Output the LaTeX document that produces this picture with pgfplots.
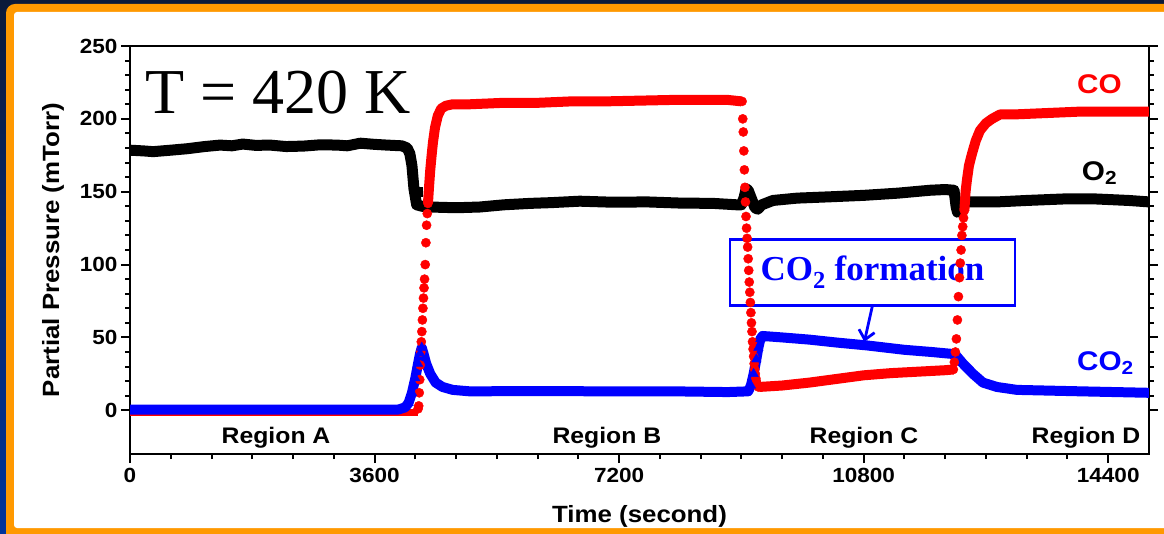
\documentclass[border=0pt]{standalone}
\usepackage{pgfplots}
\pgfplotsset{compat=1.18}
\usepackage{fontspec}
\setmainfont{Liberation Sans}[FakeStretch=1.1]
\newfontfamily\seriffont{Liberation Serif}
\usetikzlibrary{arrows.meta}
\definecolor{frameorange}{HTML}{FF9900}
\definecolor{navytop}{HTML}{0B1A3A}
\definecolor{navybot}{HTML}{00349C}
\begin{document}
\begin{tikzpicture}
\useasboundingbox (0,0) rectangle (1164pt,533pt);
\clip (0,0) rectangle (1164pt,533pt);
\shade[top color=navytop, bottom color=navybot] (0,0) rectangle (1164pt,533pt);
\fill[frameorange, rounded corners=9pt] (6pt,-30pt) rectangle (1200pt,529pt);
\fill[white, rounded corners=3pt] (14pt,5pt) rectangle (1200pt,521pt);
\begin{axis}[
  at={(130pt,79pt)}, anchor=south west, scale only axis,
  width=1019pt, height=408pt,
  xmin=0, xmax=15000, ymin=-30, ymax=250,
  xtick={0,3600,7200,10800,14400}, ytick={0,50,100,150,200,250},
  xtick pos=lower, ytick pos=both,
  minor x tick num=5, minor y tick num=4,
  tick align=outside, major tick length=9pt, minor tick length=5pt,
  every tick/.style={black, line width=2pt},
  axis line style={line width=2.8pt},
  scaled ticks=false,
  /pgf/number format/1000 sep={},
  /pgf/number format/assume math mode=true,
  ticklabel style={font=\bfseries\fontsize{20.5}{22}\selectfont},
  xticklabel style={yshift=-2pt},
]
% O2
\addplot[black, line width=11pt, line join=round] coordinates {
(0,178.5)(200,178)(340,177.5)(600,178.5)(840,179.5)(1100,181)(1325,182)(1500,181.5)(1660,182.7)(1850,181.8)(2060,182)(2300,181)(2550,181.3)(2800,182.2)(3050,182)(3200,181.5)(3390,183.3)(3600,182.5)(3780,182)(4000,181.5)(4080,180)(4120,176)(4150,168)(4165,160)(4180,152)
(4220,141)(4300,140)(4416,139.5)(4800,139)(5150,139.5)(5500,141)(5890,142)(6200,142.5)(6620,143.5)(7100,142.8)(7610,143)(8100,142.2)(8580,142)(8935,141)(9000,141)(9040,146)(9070,152)(9100,151)(9150,145)(9200,139)(9240,138)(9300,141)(9465,144)(9820,145.6)
(10300,146.5)(10800,147.5)(11300,149)(11776,151)(12000,151.5)(12130,151)(12160,140)(12180,136)(12230,140)(12270,143)(12760,143)(13200,144)(13730,145)(14230,145)(14700,144)(15000,143)};
\addplot[only marks, mark=square*, mark size=4.5pt, black] coordinates {(4232,150)};
% CO
\addplot[red, line width=7pt] coordinates {(0,-1.5)(4240,-1.5)};
\addplot[red, line width=10pt, line join=round] coordinates {
(4386,142)(4400,152)(4420,165)(4440,175)(4460,184)(4490,194)(4530,202)(4580,207)(4650,209)(4750,210)(5000,210)(5500,211)(6000,211)(6500,212)(7000,212)(7500,212.5)(8000,213)(8500,213)(8800,213)(9000,212)};
\addplot[red, line width=10pt, line join=round] coordinates {
(9260,16)(9600,17)(10000,19)(10400,21.5)(10800,24)(11200,25.5)(11600,26.5)(12000,27.5)(12120,28)};
\addplot[red, line width=10pt, line join=round] coordinates {
(12282,137)(12300,150)(12320,158)(12350,168)(12394,176)(12450,185)(12512,192)(12600,197)(12689,200)(12806,203)(13000,203)(13500,204)(14000,205)(14500,205)(15000,205)};
\addplot[only marks, mark=*, mark size=4.6pt, red] coordinates {
(4240,1)(4250,3)(4258,12)(4265,21)(4272,31)(4280,40)(4288,47)(4296,54)(4304,62)(4312,70)(4320,77)(4328,84)(4336,90)(4346,100)(4356,115)(4366,127)(4376,135)(4386,142)
(9010,212)(9020,200)(9028,191)(9036,178)(9044,165)(9052,153)(9060,143)(9068,133)(9076,125)(9084,118)(9092,112)(9100,104)(9108,96)(9116,88)(9124,81)(9132,74)(9140,67)(9148,60)(9156,54)(9164,47)(9172,42)(9180,37)(9188,32)(9196,28)(9204,25)(9212,22)(9220,20)(9228,18)(9236,17)(9250,16)
(12120,28)(12135,33)(12150,40)(12165,49)(12180,62)(12195,78)(12210,91)(12222,101)(12234,110)(12246,120)(12258,126)(12270,132)(12282,137)};
% CO2
\addplot[blue, line width=10pt, line join=round] coordinates {
(0,0.5)(1000,0.5)(2000,0.5)(3000,0.5)(3950,0.5)(4050,2)(4100,5)(4150,12)(4200,22)(4240,32)(4270,39)(4295,43)(4320,39)(4360,32)(4420,25)(4500,19)(4600,16)(4750,14)(5000,13)(6000,13.2)(7000,13)(8000,13)(8800,12.5)(9100,13)
(9140,17)(9180,25)(9220,35)(9250,43)(9280,49)(9310,51)(9600,50)(10000,48.5)(10400,46.5)(10850,44.5)(11400,41.5)(11800,40)(12144,38.5)(12262,32)(12409,25)(12556,19)(12762,16)(13056,14)(14000,13)(15000,12)};
\addplot[only marks, mark=triangle*, mark size=5.5pt, blue] coordinates {
(4100,5)(4150,12)(4200,22)(4240,32)(4270,39)(4295,43)(9140,17)(9180,25)(9220,35)(9250,43)(9280,49)};
% texts
\node[anchor=base west, inner sep=0, font=\seriffont\fontsize{64}{70}\selectfont] at (axis cs:221,204) {T = 420 K};
\node[anchor=base west, inner sep=0, red, font=\bfseries\fontsize{27}{30}\selectfont] at (axis cs:13940,217.7) {CO};
\node[anchor=base west, inner sep=0, black, font=\bfseries\fontsize{27}{30}\selectfont] at (axis cs:14010,158) {O\textsubscript{2}};
\node[anchor=base west, inner sep=0, blue, font=\bfseries\fontsize{27}{30}\selectfont] at (axis cs:13940,27.5) {CO\textsubscript{2}};
\node[anchor=base, inner sep=0, font=\bfseries\fontsize{22.5}{25}\selectfont] at (axis cs:2150,-22.7) {Region A};
\node[anchor=base, inner sep=0, font=\bfseries\fontsize{22.5}{25}\selectfont] at (axis cs:7020,-22.7) {Region B};
\node[anchor=base, inner sep=0, font=\bfseries\fontsize{22.5}{25}\selectfont] at (axis cs:10805,-22.7) {Region C};
\node[anchor=base, inner sep=0, font=\bfseries\fontsize{22.5}{25}\selectfont] at (axis cs:14072,-22.7) {Region D};
\node[draw=blue, line width=2.8pt, minimum width=285pt, minimum height=66pt, inner sep=0, text=blue, font=\seriffont\bfseries\fontsize{35}{40}\selectfont] at (axis cs:10930,94.8) {CO\textsubscript{2} formation};
\draw[blue, line width=2.8pt, -{Straight Barb[length=9pt, width=16pt]}] (axis cs:10930,72) -- (axis cs:10810,47);
\end{axis}
\node[font=\bfseries\fontsize{23.5}{26}\selectfont] at (639.5pt,17pt) {Time (second)};
\node[rotate=90, font=\bfseries\fontsize{23.5}{26}\selectfont] at (53pt,283pt) {Partial Pressure (mTorr)};
\end{tikzpicture}
\end{document}
